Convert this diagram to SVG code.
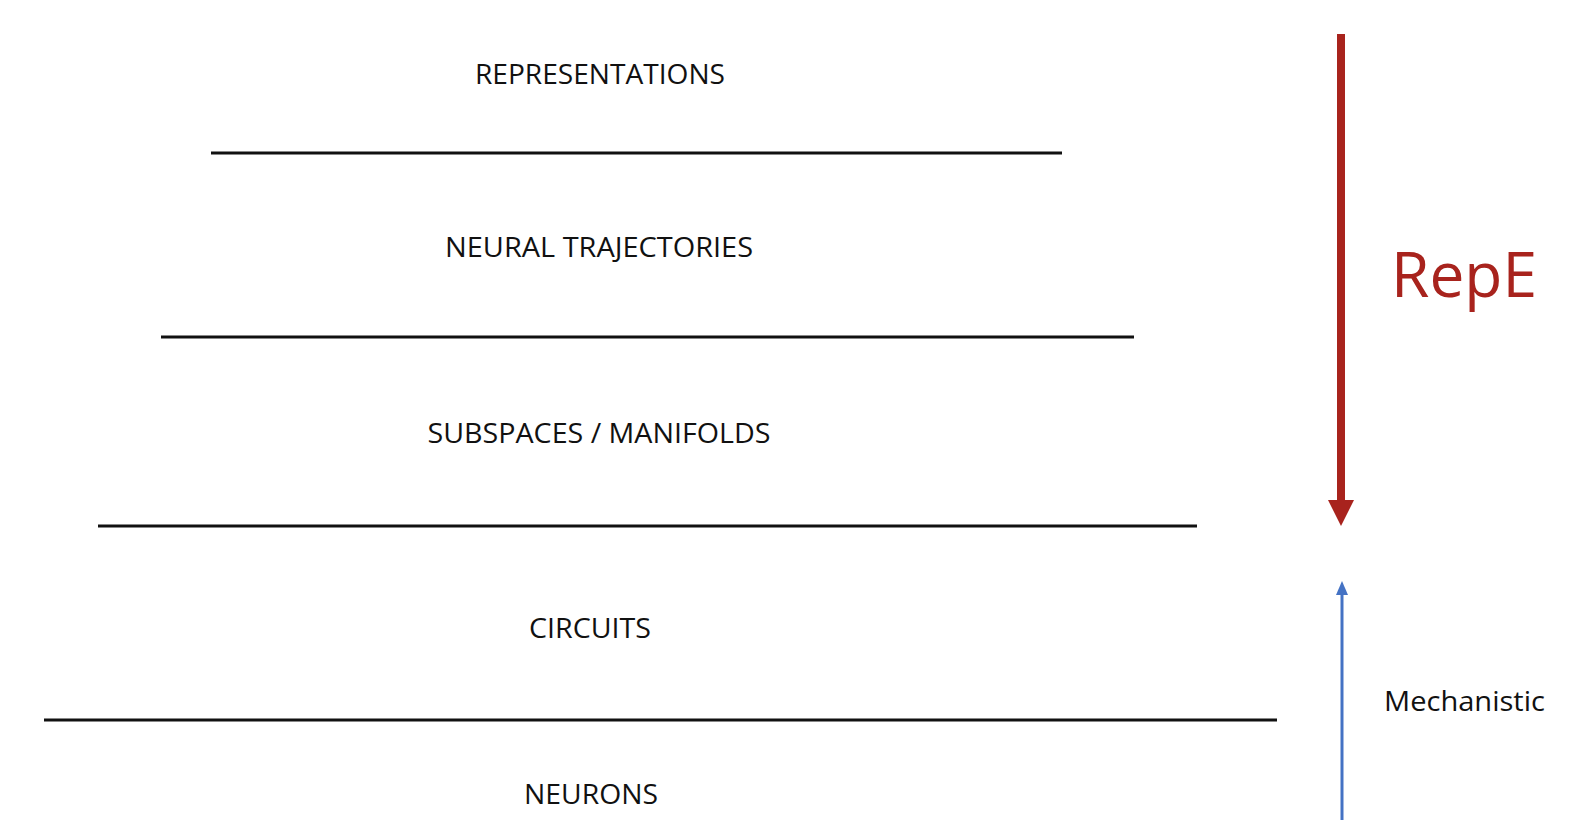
<svg xmlns="http://www.w3.org/2000/svg" width="1576" height="840" viewBox="0 0 1576 840">
<style>
.lbl{font-family:"Open Sans","Liberation Sans",sans-serif;font-size:27px;fill:#111;text-anchor:middle}
.sep{stroke:#111;stroke-width:3}
</style>
<rect width="1576" height="840" fill="#fff"/>
<g id="representations"><text class="lbl" x="600" y="84" textLength="250" lengthAdjust="spacingAndGlyphs">REPRESENTATIONS</text></g>
<g id="neural-trajectories"><text class="lbl" x="599" y="257" textLength="308" lengthAdjust="spacingAndGlyphs">NEURAL TRAJECTORIES</text></g>
<g id="subspaces"><text class="lbl" x="599" y="443" textLength="343" lengthAdjust="spacingAndGlyphs">SUBSPACES / MANIFOLDS</text></g>
<g id="circuits"><text class="lbl" x="590" y="638" textLength="122" lengthAdjust="spacingAndGlyphs">CIRCUITS</text></g>
<g id="neurons"><text class="lbl" x="591" y="804" textLength="134" lengthAdjust="spacingAndGlyphs">NEURONS</text></g>
<g id="separators">
<line class="sep" x1="211" y1="153" x2="1062" y2="153"/>
<line class="sep" x1="161" y1="337" x2="1134" y2="337"/>
<line class="sep" x1="98" y1="526" x2="1197" y2="526"/>
<line class="sep" x1="44" y1="720" x2="1277" y2="720"/>
</g>
<g id="connectors">
<line x1="1341" y1="34" x2="1341" y2="502" stroke="#A8231D" stroke-width="8"/>
<polygon points="1328,500 1354,500 1341,526" fill="#A8231D"/>
<line x1="1342" y1="820" x2="1342" y2="593" stroke="#4472C4" stroke-width="3"/>
<polygon points="1336,595 1348,595 1342,581" fill="#4472C4"/>
</g>
<g id="repe"><text x="1391" y="297" font-family="Open Sans, Liberation Sans, sans-serif" font-size="62" fill="#A8231D" textLength="146" lengthAdjust="spacingAndGlyphs">RepE</text></g>
<g id="mechanistic"><text x="1384" y="711" font-family="Open Sans, Liberation Sans, sans-serif" font-size="27" fill="#111" textLength="161" lengthAdjust="spacingAndGlyphs">Mechanistic</text></g>
</svg>
